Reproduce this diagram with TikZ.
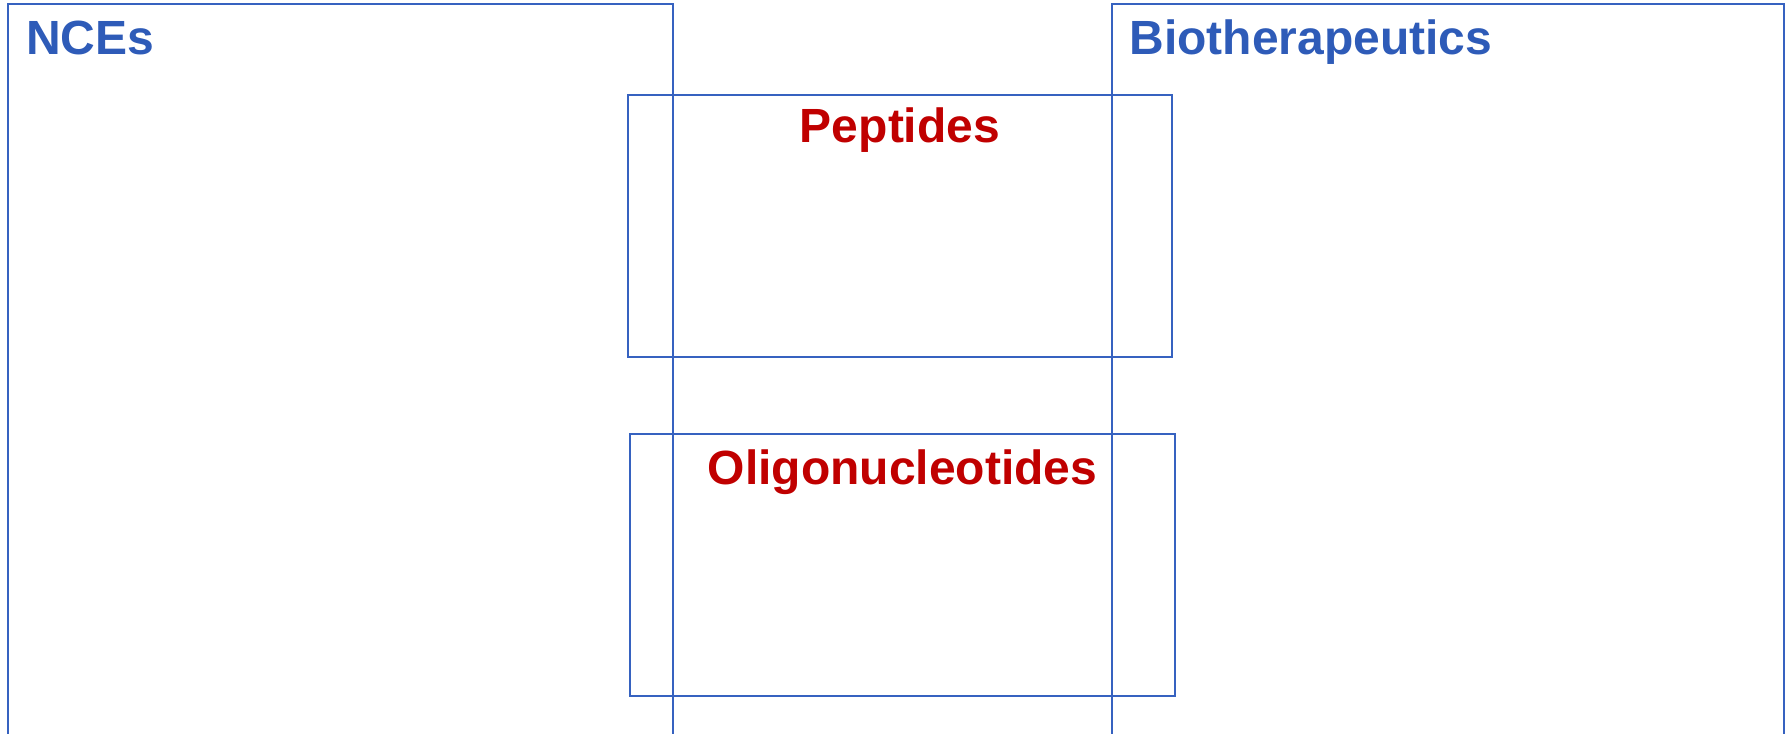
\documentclass[tikz,border=0pt]{standalone}
\usepackage{fontspec}
\setmainfont{Liberation Sans}
\usetikzlibrary{positioning}
\definecolor{frameblue}{HTML}{3662C0}
\definecolor{titleblue}{HTML}{2E5BB8}
\definecolor{titlered}{HTML}{C00000}

\begin{document}
\begin{tikzpicture}[
  x=0.5pt, y=-0.5pt,
  area/.style={rectangle, draw=frameblue, line width=1pt, inner sep=0pt,
               anchor=north west},
  title/.style={inner sep=0pt, font=\fontsize{24}{28}\selectfont\bfseries},
]
  \useasboundingbox (0,0) rectangle (1790,734);
  \clip (0,0) rectangle (1790,734);

  % the two big classes run off the bottom edge
  \node[area, minimum width=332.5pt, minimum height=398.5pt] (nce) at (7,3) {};
  \node[area, minimum width=336pt, minimum height=398.5pt] (bio) at (1111,3) {};
  % the two classes in between
  \node[area, minimum width=272pt, minimum height=131pt] (pep) at (627,94) {};
  \node[area, minimum width=272.5pt, minimum height=131pt] (oligo) at (629,433) {};

  \node[title, text=titleblue, below right=8.8pt and 9.4pt of nce.north west] (ncelabel) {NCEs};
  \node[title, text=titleblue, below right=8.3pt and 9pt of bio.north west] (biolabel) {Biotherapeutics};
  \node[title, text=titlered, below=6.8pt of pep.north] (peplabel) {Peptides};
  \node[title, text=titlered, below=8.3pt of oligo.north] (oligolabel) {Oligonucleotides};
\end{tikzpicture}
\end{document}
